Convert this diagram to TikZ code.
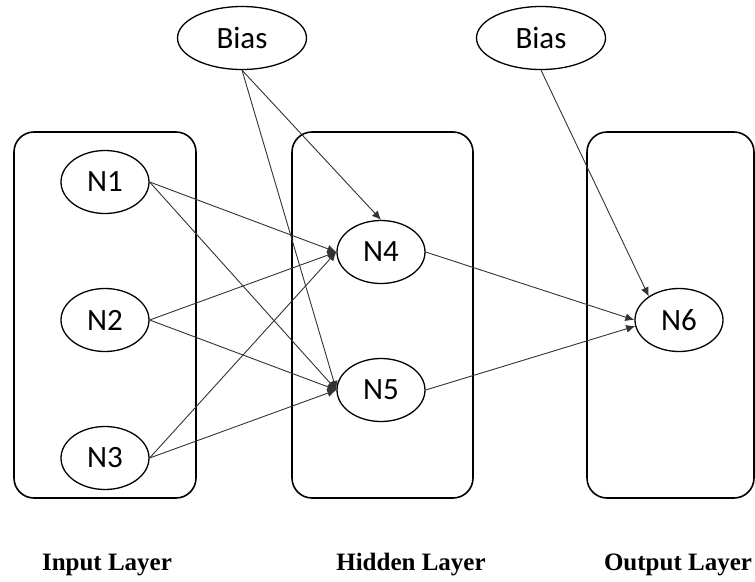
\documentclass[tikz,border=0pt]{standalone}
\usepackage{fontspec}
\setmainfont{Liberation Serif}
\newfontfamily\calib{Carlito}
\usetikzlibrary{shapes.geometric,arrows.meta}
\tikzset{
  layerbox/.style={draw, line width=1.6pt, rounded corners=20pt},
  neuron/.style={ellipse, draw, line width=1.3pt, minimum width=88pt, minimum height=63pt, inner sep=0pt, font=\calib\fontsize{31}{31}\selectfont},
  biasnode/.style={neuron, minimum width=129pt},
  conn/.style={draw=black!80, line width=0.9pt, -{Latex[length=9pt,width=8pt]}},
  layerlabel/.style={font=\bfseries\fontsize{25}{25}\selectfont}
}
\begin{document}
\begin{tikzpicture}[x=1pt,y=-1pt]
\useasboundingbox (0,0) rectangle (755,581);
\draw[layerbox] (14,132) rectangle (196,498);
\draw[layerbox] (292,132) rectangle (473,498);
\draw[layerbox] (587,132) rectangle (754,498);

\node[biasnode] (B1) at (242,38) {Bias};
\node[biasnode] (B2) at (541,38) {Bias};
\node[neuron] (N1) at (105,182) {N1};
\node[neuron] (N2) at (105,320) {N2};
\node[neuron] (N3) at (105,458) {N3};
\node[neuron] (N4) at (381,252) {N4};
\node[neuron] (N5) at (381,390) {N5};
\node[neuron] (N6) at (679,320) {N6};

\draw[conn] (N1.east) -- (N4.west);
\draw[conn] (N1.east) -- (N5.west);
\draw[conn] (N2.east) -- (N4.west);
\draw[conn] (N2.east) -- (N5.west);
\draw[conn] (N3.east) -- (N4.west);
\draw[conn] (N3.east) -- (N5.west);
\draw[conn] (B1.south) -- (N4.north);
\draw[conn] (B1.south) -- (N5.west);
\draw[conn] (N4.east) -- (N6.west);
\draw[conn] (N5.east) -- (N6.188);
\draw[conn] (B2.south) -- (N6.142);

\node[layerlabel] (L1) at (107,565) {Input Layer};
\node[layerlabel] (L2) at (411,565) {Hidden Layer};
\node[layerlabel] (L3) at (678,565) {Output Layer};
\end{tikzpicture}
\end{document}
